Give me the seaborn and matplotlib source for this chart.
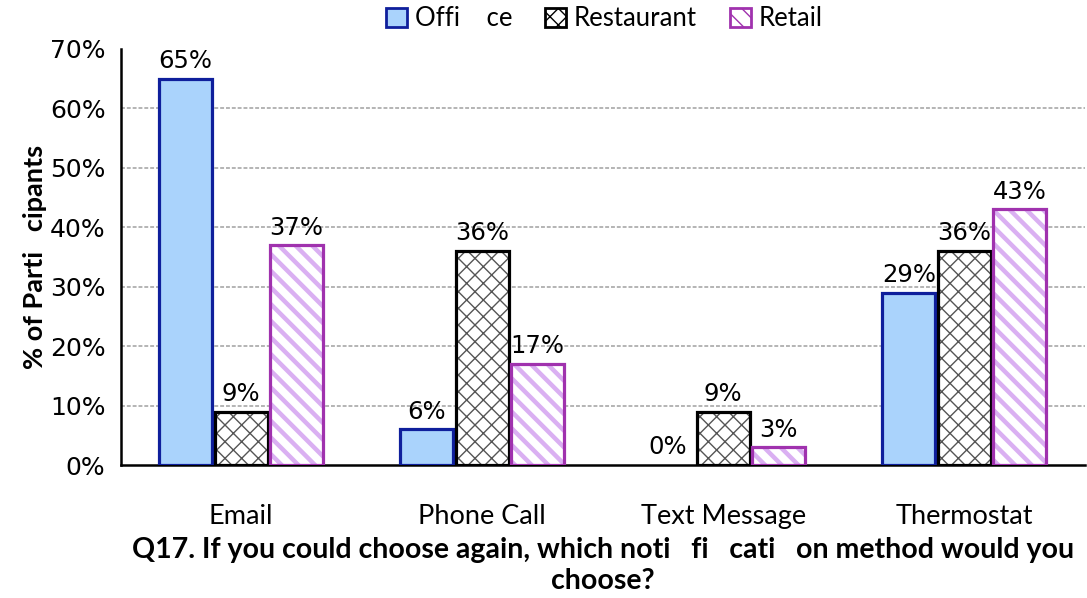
import pandas as pd
import numpy as np
import matplotlib.pyplot as plt
import matplotlib as mpl
from matplotlib.patches import Rectangle, Patch
import seaborn as sns

methods = ['Email', 'Phone Call', 'Text Message', 'Thermostat']
groups = ['Office', 'Restaurant', 'Retail']
group_labels = ['Offi    ce', 'Restaurant', 'Retail']
office = [65, 6, 0, 29]
restaurant = [9, 36, 9, 36]
retail = [37, 17, 3, 43]

df = pd.DataFrame({
    'method': methods * 3,
    'type': [g for g in groups for _ in methods],
    'pct': office + restaurant + retail,
})

sns.set_style('white')
plt.rcParams['font.family'] = ['DejaVu Sans']
plt.rcParams['text.color'] = 'black'
plt.rcParams['xtick.color'] = 'black'
plt.rcParams['ytick.color'] = 'black'
plt.rcParams['axes.labelcolor'] = 'black'
label_font = ['Lato', 'DejaVu Sans']

# face, hatch colour, outline colour, hatch pattern, hatch lw
styles = {
    'Office': ('#aad3fc', None, '#0f1f9c', '', 1.0),
    'Restaurant': ('white', '#555555', 'black', 'xx', 1.0),
    'Retail': ('white', '#dab0f2', '#a032ae', '\\\\', 3.2),
}

fig = plt.figure(figsize=(10.87, 5.98), dpi=100)
ax = fig.add_axes([0.111, 0.2224, 0.887, 0.6957])

sns.barplot(data=df, x='method', y='pct', hue='type', order=methods,
            hue_order=groups, width=0.69, gap=0.045, ax=ax, legend=False,
            saturation=1)

for g, cont in zip(groups, ax.containers):
    face, hcol, ecol, hatch, hlw = styles[g]
    for bar in cont:
        bar.set_facecolor(face)
        if hatch:
            bar.set_hatch(hatch)
            bar.set_edgecolor(hcol)
            bar.set_linewidth(0)
            if hasattr(bar, 'set_hatch_linewidth'):
                bar.set_hatch_linewidth(hlw)
        else:
            bar.set_edgecolor(ecol)
            bar.set_linewidth(0)
        x0, y0 = bar.get_x(), bar.get_y()
        w, h = bar.get_width(), bar.get_height()
        if h > 0:
            ax.add_patch(Rectangle((x0, y0), w, h, fill=False, edgecolor=ecol,
                                   linewidth=2.3, zorder=3))
        ax.annotate(f'{h:.0f}%', (x0 + w / 2, h), xytext=(0, 4),
                    textcoords='offset points', ha='center', va='bottom',
                    fontsize=17.5, zorder=4)

ax.set_ylim(0, 70)
ax.set_xlim(-0.5, 3.5)
ax.set_yticks(np.arange(0, 71, 10))
ax.set_yticklabels([f'{v}%' for v in range(0, 71, 10)], fontsize=18)
for v in range(10, 70, 10):
    ax.axhline(v, color='#b4b4b4', lw=1.4, ls=(0, (2, 1)), zorder=0)

ax.set_xticks(range(4))
ax.set_xticklabels(methods, fontsize=19.5, family=label_font)
ax.tick_params(axis='x', which='major', length=0, pad=28)
ax.set_xticks(np.arange(-0.5, 3.6, 1), minor=True)
ax.tick_params(axis='x', which='minor', length=9, width=1.5, direction='out')
ax.tick_params(axis='y', length=8, width=1.5, direction='out', pad=3)

for s in ['top', 'right']:
    ax.spines[s].set_visible(False)
for s in ['left', 'bottom']:
    ax.spines[s].set_linewidth(1.8)
    ax.spines[s].set_color('black')

ax.set_xlabel('Q17. If you could choose again, which noti   fi   cati   on method would you\nchoose?',
              fontsize=20.5, fontweight='bold', family=label_font, labelpad=6,
              linespacing=1.25)
ax.set_ylabel('% of Parti   cipants', fontsize=19.5, fontweight='bold',
              family=label_font, labelpad=2)

handles = []
for g in groups:
    face, hcol, ecol, hatch, hlw = styles[g]
    handles.append(Patch(facecolor=face, edgecolor=ecol, hatch=hatch, linewidth=2))
fig.legend(handles, group_labels, loc='upper center', bbox_to_anchor=(0.556, 1.028),
           ncol=3, frameon=False, prop={'family': label_font, 'size': 18.5},
           handlelength=0.8, handleheight=0.8, handletextpad=0.3, columnspacing=1.3)

fig.savefig('out.png', dpi=100)
